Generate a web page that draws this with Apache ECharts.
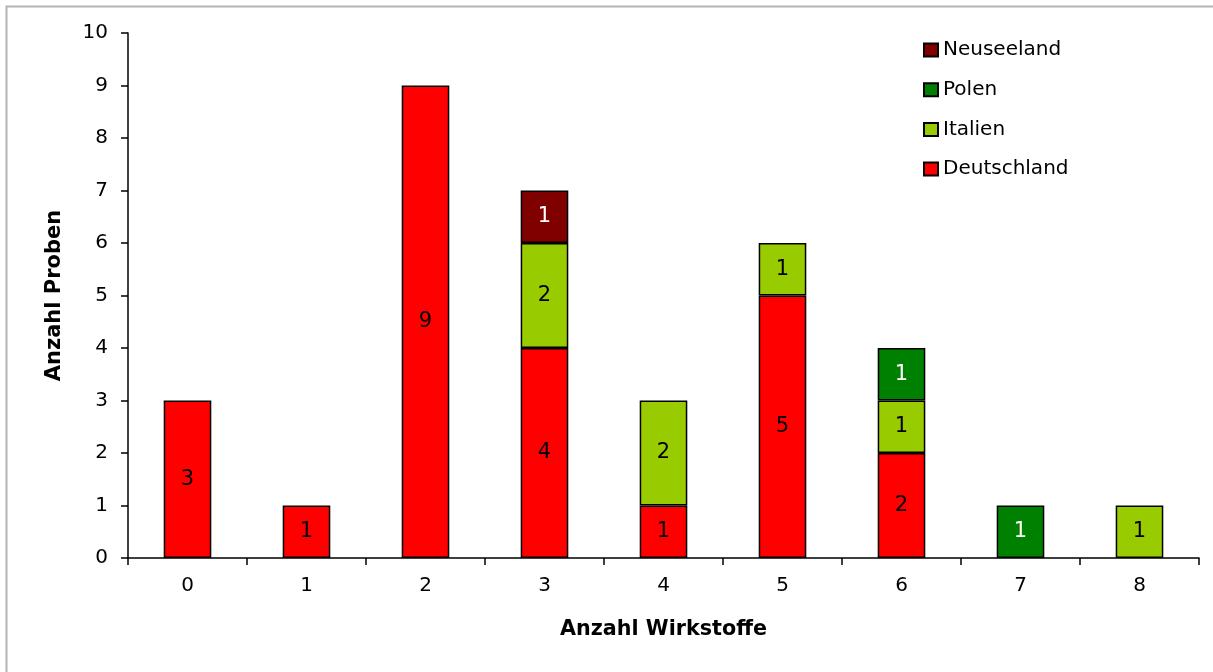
<!DOCTYPE html>
<html>
<head>
<meta charset="utf-8">
<script src="https://cdn.jsdelivr.net/npm/echarts@6/dist/echarts.min.js"></script>
<style>
  html, body { margin: 0; padding: 0; background: #fff; }
  #chart { width: 1213px; height: 672px; }
</style>
</head>
<body>
<div id="chart"></div>
<script>
// Anzahl Wirkstoffe je Probe, gestapelt nach Herkunftsland
const categories = ['0', '1', '2', '3', '4', '5', '6', '7', '8'];
const deutschland = [3, 1, 9, 4, 1, 5, 2, 0, 0];
const italien     = [0, 0, 0, 2, 2, 1, 1, 0, 1];
const polen       = [0, 0, 0, 0, 0, 0, 1, 1, 0];
const neuseeland  = [0, 0, 0, 1, 0, 0, 0, 0, 0];
const yTicks = [0, 1, 2, 3, 4, 5, 6, 7, 8, 9, 10];

const FONT = '"DejaVu Sans", "Liberation Sans", Arial, sans-serif';
const toData = arr => arr.map(v => (v === 0 ? '-' : v));

function stackSeries(name, values, color, labelColor) {
  return {
    name: name,
    type: 'bar',
    stack: 'total',
    barWidth: '40%',
    data: toData(values),
    itemStyle: { color: color, borderColor: '#000', borderWidth: 1.5 },
    label: {
      show: true,
      position: 'inside',
      color: labelColor,
      fontFamily: FONT,
      fontSize: 21
    },
    emphasis: { disabled: true }
  };
}

const chart = echarts.init(document.getElementById('chart'), null, { renderer: 'canvas' });
chart.setOption({
  animation: false,
  backgroundColor: '#fff',
  graphic: [{
    type: 'rect',
    shape: { x: 6.5, y: 6.5, width: 1240, height: 700 },
    style: { fill: 'none', stroke: '#b4b4b4', lineWidth: 2 },
    silent: true
  }],
  grid: { left: 128, right: 14, top: 33, bottom: 114 },
  legend: {
    orient: 'vertical',
    left: 923,
    top: 40,
    padding: 0,
    icon: 'rect',
    itemWidth: 14,
    itemHeight: 13,
    itemGap: 19.7,
    data: ['Neuseeland', 'Polen', 'Italien', 'Deutschland'],
    textStyle: { fontFamily: FONT, fontSize: 20, color: '#000' }
  },
  xAxis: {
    type: 'category',
    data: categories,
    name: 'Anzahl Wirkstoffe',
    nameLocation: 'middle',
    nameGap: 61,
    nameTextStyle: { fontFamily: FONT, fontSize: 20.7, fontWeight: 'bold', color: '#000' },
    axisLine: { lineStyle: { color: '#000', width: 1.5 } },
    axisTick: { show: true, length: 7, lineStyle: { color: '#000', width: 1.5 } },
    axisLabel: { fontFamily: FONT, fontSize: 20, color: '#000', margin: 18 }
  },
  yAxis: {
    type: 'value',
    min: yTicks[0],
    max: yTicks[yTicks.length - 1],
    interval: 1,
    name: 'Anzahl Proben',
    nameLocation: 'middle',
    nameGap: 63,
    nameRotate: 90,
    nameTextStyle: { fontFamily: FONT, fontSize: 21, fontWeight: 'bold', color: '#000' },
    splitLine: { show: false },
    axisLine: { show: true, lineStyle: { color: '#000', width: 1.5 } },
    axisTick: { show: true, length: 7, lineStyle: { color: '#000', width: 1.5 } },
    axisLabel: { fontFamily: FONT, fontSize: 20, color: '#000', margin: 20 }
  },
  series: [
    stackSeries('Deutschland', deutschland, '#ff0000', '#000'),
    stackSeries('Italien', italien, '#99cc00', '#000'),
    stackSeries('Polen', polen, '#008000', '#fff'),
    stackSeries('Neuseeland', neuseeland, '#800000', '#fff')
  ]
});
</script>
</body>
</html>
